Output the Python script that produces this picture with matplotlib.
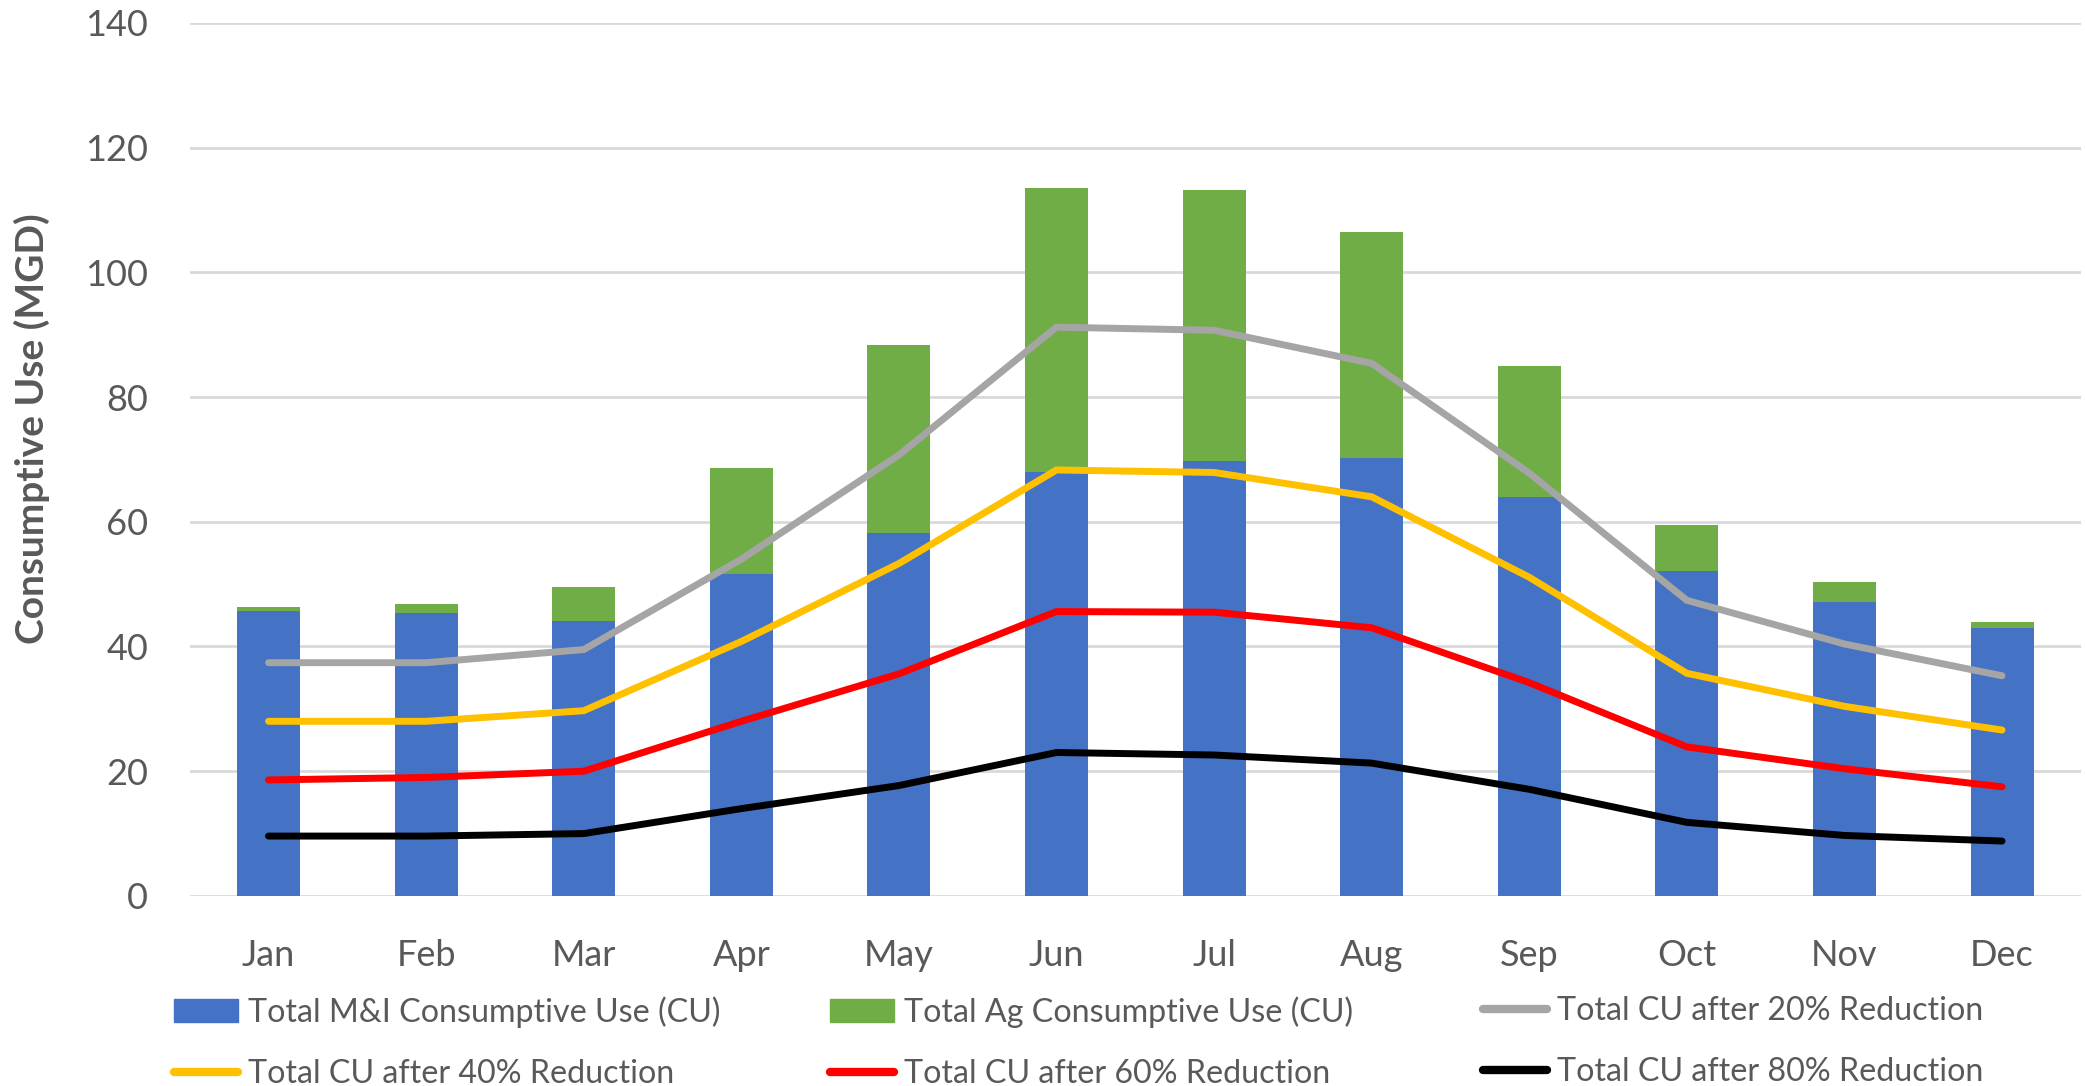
import numpy as np
import matplotlib
matplotlib.use("Agg")
from matplotlib import pyplot as plt
from matplotlib.patches import Patch
from matplotlib.lines import Line2D

months = ["Jan", "Feb", "Mar", "Apr", "May", "Jun", "Jul", "Aug", "Sep", "Oct", "Nov", "Dec"]

# stacked bars (MGD)
mi_use = [45.7, 45.4, 44.1, 51.6, 58.2, 67.9, 69.8, 70.2, 63.9, 52.1, 47.1, 43.0]
ag_use = [0.7, 1.4, 5.4, 17.0, 30.2, 45.6, 43.4, 36.3, 21.1, 7.4, 3.3, 1.0]

# reduction lines (MGD)
cu_20 = [37.4, 37.4, 39.5, 54.0, 70.7, 91.2, 90.7, 85.4, 67.8, 47.4, 40.4, 35.3]
cu_40 = [28.0, 28.0, 29.7, 40.8, 53.3, 68.3, 67.9, 64.0, 51.1, 35.7, 30.4, 26.6]
cu_60 = [18.6, 19.0, 20.0, 28.0, 35.6, 45.6, 45.5, 43.0, 34.2, 23.9, 20.4, 17.5]
cu_80 = [9.6, 9.6, 10.0, 14.0, 17.7, 23.0, 22.6, 21.3, 17.1, 11.8, 9.7, 8.8]

plt.rcParams["font.family"] = ["Lato", "DejaVu Sans"]
text_color = "#595959"

fig = plt.figure(figsize=(20.85, 10.86), dpi=100)
ax = fig.add_axes([0.091, 0.175, 0.907, 0.804])

x = np.arange(len(months))
ax.bar(x, mi_use, 0.4, color="#4472C4", zorder=2)
ax.bar(x, ag_use, 0.4, bottom=mi_use, color="#70AD47", zorder=2)

line_styles = [
    (cu_20, "#A5A5A5"),
    (cu_40, "#FFC000"),
    (cu_60, "#FF0000"),
    (cu_80, "#000000"),
]
for vals, c in line_styles:
    ax.plot(x, vals, color=c, lw=5, solid_capstyle="round", solid_joinstyle="miter", zorder=3)

ax.set_xlim(-0.5, 11.5)
ax.set_ylim(0, 140)
ax.set_yticks(np.arange(0, 141, 20))
ax.set_xticks(x)
ax.set_xticklabels(months)
ax.grid(axis="y", color="#D9D9D9", lw=2, zorder=0)
for s in ax.spines.values():
    s.set_visible(False)
ax.tick_params(axis="both", length=0, labelsize=26, colors=text_color)
ax.tick_params(axis="x", pad=31)
ax.tick_params(axis="y", pad=30)
ax.set_ylabel("Consumptive Use (MGD)", fontsize=28, fontweight="bold", color=text_color)
ax.yaxis.set_label_coords(-0.074, 0.535)

# legend laid out in three fixed columns, two rows
columns = [
    [Patch(color="#4472C4", label="Total M&I Consumptive Use (CU)"),
     Line2D([], [], color="#FFC000", lw=6, solid_capstyle="round", label="Total CU after 40% Reduction")],
    [Patch(color="#70AD47", label="Total Ag Consumptive Use (CU)"),
     Line2D([], [], color="#FF0000", lw=6, solid_capstyle="round", label="Total CU after 60% Reduction")],
    [Line2D([], [], color="#A5A5A5", lw=6, solid_capstyle="round", label="Total CU after 20% Reduction"),
     Line2D([], [], color="#000000", lw=6, solid_capstyle="round", label="Total CU after 80% Reduction")],
]
x_anchor = [174 / 2085, 830 / 2085, 1483 / 2085]
for hs, xa in zip(columns, x_anchor):
    fig.legend(handles=hs, loc="upper left", bbox_to_anchor=(xa, 1 - 996 / 1086),
               frameon=False, fontsize=23.2, labelcolor=text_color,
               handlelength=2.0, handletextpad=0.3, labelspacing=0.97,
               borderaxespad=0, borderpad=0)

fig.savefig("out.png", dpi=100)
